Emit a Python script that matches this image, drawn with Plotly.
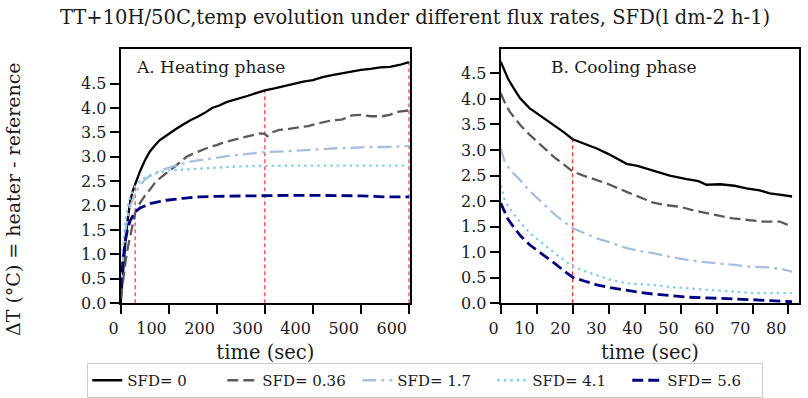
import plotly.graph_objects as go

# ---------------- data ----------------
sfd_labels = ["SFD= 0", "SFD= 0.36", "SFD= 1.7", "SFD= 4.1", "SFD= 5.6"]

# Heating phase (time in sec, delta T in degC)
heat_t_0 = [0, 5, 10, 15, 20, 25, 30, 40, 50, 60, 70, 80, 90, 100, 115, 130, 145, 160, 175, 190,
            205, 220, 235, 250, 265, 280, 300, 320, 340, 360, 380, 400, 420, 440, 460, 480, 500,
            520, 540, 560, 580, 600]
heat_v_0 = [0, 0.75, 1.3, 1.75, 2.1, 2.3, 2.45, 2.7, 2.92, 3.1, 3.22, 3.33, 3.4, 3.47, 3.57, 3.66,
            3.75, 3.82, 3.9, 4.0, 4.05, 4.12, 4.16, 4.21, 4.25, 4.3, 4.36, 4.4, 4.45, 4.49, 4.54,
            4.57, 4.63, 4.67, 4.71, 4.75, 4.78, 4.8, 4.83, 4.84, 4.88, 4.94]

heat_t_036 = [0, 5, 10, 15, 20, 25, 30, 40, 50, 60, 70, 80, 95, 110, 125, 137, 150, 165, 185, 200,
              215, 233, 250, 270, 289, 300, 305, 315, 330, 350, 372, 390, 410, 430, 441, 460, 482,
              500, 520, 544, 560, 575, 590, 600]
heat_v_036 = [0.1, 0.5, 0.85, 1.15, 1.4, 1.65, 1.85, 2.05, 2.2, 2.32, 2.45, 2.55, 2.66, 2.78, 2.9,
              3.0, 3.06, 3.12, 3.2, 3.24, 3.3, 3.34, 3.38, 3.43, 3.48, 3.47, 3.42, 3.5, 3.55, 3.57,
              3.6, 3.63, 3.68, 3.72, 3.75, 3.76, 3.85, 3.86, 3.83, 3.83, 3.86, 3.92, 3.93, 3.95]

heat_t_17 = [0, 5, 10, 15, 20, 30, 40, 50, 60, 75, 95, 120, 145, 165, 200, 233, 265, 303, 340,
             372, 410, 441, 480, 510, 550, 580, 600]
heat_v_17 = [0.3, 1.0, 1.5, 1.8, 2.0, 2.25, 2.42, 2.53, 2.6, 2.68, 2.76, 2.84, 2.9, 2.93, 2.98,
             3.03, 3.06, 3.1, 3.11, 3.13, 3.14, 3.17, 3.18, 3.2, 3.2, 3.22, 3.22]

heat_t_41 = [0, 5, 10, 15, 20, 30, 40, 50, 60, 80, 100, 130, 165, 200, 240, 280, 320, 360, 400,
             450, 500, 550, 600]
heat_v_41 = [0.4, 1.2, 1.7, 2.0, 2.2, 2.4, 2.5, 2.57, 2.62, 2.68, 2.72, 2.74, 2.76, 2.78, 2.8,
             2.81, 2.82, 2.82, 2.82, 2.82, 2.82, 2.82, 2.82]

heat_t_56 = [0, 5, 10, 15, 20, 30, 40, 50, 61, 80, 95, 130, 164, 200, 250, 300, 350, 400, 450,
             500, 550, 600]
heat_v_56 = [0.3, 0.9, 1.3, 1.55, 1.7, 1.87, 1.95, 2.0, 2.04, 2.08, 2.11, 2.15, 2.18, 2.19, 2.2,
             2.21, 2.21, 2.21, 2.21, 2.2, 2.18, 2.18]

# Cooling phase
cool_t_0 = [0, 1, 2, 3.5, 5.4, 8, 10, 12.8, 15, 17.5, 20, 23, 26.7, 30, 35, 38, 42.4, 47, 51.7,
            55, 57.2, 61, 65, 68.3, 72, 74.8, 78, 81]
cool_v_0 = [4.73, 4.55, 4.4, 4.22, 4.01, 3.82, 3.72, 3.59, 3.47, 3.35, 3.21, 3.13, 3.03, 2.92,
            2.73, 2.69, 2.6, 2.5, 2.43, 2.39, 2.32, 2.33, 2.3, 2.25, 2.21, 2.15, 2.12, 2.09]

cool_t_036 = [0, 1, 2.5, 5.4, 8, 10, 12.8, 15, 17.5, 20, 23, 26.7, 30, 35, 38, 42.4, 46, 49.8, 53,
              57.2, 61, 64.6, 69, 72.9, 77.6, 81]
cool_v_036 = [4.11, 3.95, 3.75, 3.49, 3.3, 3.17, 3.0, 2.85, 2.72, 2.58, 2.5, 2.41, 2.33, 2.18, 2.1,
              1.97, 1.92, 1.89, 1.83, 1.76, 1.71, 1.66, 1.63, 1.6, 1.6, 1.5]

cool_t_17 = [0, 1, 2.5, 5.4, 8, 10, 12.8, 15, 17.5, 20, 23, 26.7, 30, 35, 38, 42.4, 47, 51.7, 56,
             61, 65, 68.3, 72, 74.8, 78, 81]
cool_v_17 = [3.03, 2.8, 2.62, 2.41, 2.2, 2.07, 1.89, 1.74, 1.6, 1.47, 1.38, 1.27, 1.2, 1.08, 1.03,
             0.98, 0.91, 0.85, 0.81, 0.78, 0.75, 0.72, 0.71, 0.7, 0.67, 0.62]

cool_t_41 = [0, 1, 2, 3.5, 5.5, 8.1, 10, 12.8, 15, 17.5, 20, 23, 26.7, 30, 35, 38, 42.4, 47, 51.7,
             56, 61, 66, 70, 75, 81]
cool_v_41 = [2.31, 2.05, 1.9, 1.76, 1.58, 1.37, 1.27, 1.11, 0.98, 0.85, 0.72, 0.64, 0.55, 0.47,
             0.39, 0.38, 0.36, 0.32, 0.29, 0.27, 0.25, 0.22, 0.2, 0.2, 0.2]

cool_t_56 = [0, 1, 2, 3.5, 5.5, 8.1, 10, 12.8, 15, 17.5, 20, 23, 26.7, 30, 35, 38, 42.4, 47, 51.7,
             56, 61, 66, 70, 75, 81]
cool_v_56 = [1.96, 1.8, 1.65, 1.5, 1.32, 1.14, 1.04, 0.91, 0.78, 0.64, 0.51, 0.44, 0.36, 0.31,
             0.25, 0.22, 0.18, 0.15, 0.12, 0.11, 0.1, 0.08, 0.07, 0.05, 0.03]

# red reference markers (time, height)
heat_mark_t = [30, 300, 600]
heat_mark_v = [2.45, 4.36, 4.94]
cool_mark_t = [20]
cool_mark_v = [3.2]

x_heat_ticks = [0, 100, 200, 300, 400, 500, 600]
x_cool_ticks = [0, 10, 20, 30, 40, 50, 60, 70, 80]
y_ticks = [0.0, 0.5, 1.0, 1.5, 2.0, 2.5, 3.0, 3.5, 4.0, 4.5]

# ---------------- styles ----------------
colors = ["#000000", "#5a5a5a", "#a9bfdc", "#87ceeb", "#000080"]
dashes = ["solid", "11px,5px", "14px,5px,3px,5px", "2.5px,4px", "11px,5px"]
widths = [2.3, 2.3, 2.3, 2.3, 2.8]

heat_t = [heat_t_0, heat_t_036, heat_t_17, heat_t_41, heat_t_56]
heat_v = [heat_v_0, heat_v_036, heat_v_17, heat_v_41, heat_v_56]
cool_t = [cool_t_0, cool_t_036, cool_t_17, cool_t_41, cool_t_56]
cool_v = [cool_v_0, cool_v_036, cool_v_17, cool_v_41, cool_v_56]

FONT = "DejaVu Serif"
TXT = "#1a1a1a"
RED = dict(color="#ff1a1a", width=1.1, dash="4px,3px")

fig = go.Figure()

for t, v in zip(heat_mark_t, heat_mark_v):
    fig.add_trace(go.Scatter(x=[t, t], y=[0, v], mode="lines", xaxis="x", yaxis="y",
                             line=RED, showlegend=False, hoverinfo="skip"))
for t, v in zip(cool_mark_t, cool_mark_v):
    fig.add_trace(go.Scatter(x=[t, t], y=[0, v], mode="lines", xaxis="x2", yaxis="y2",
                             line=RED, showlegend=False, hoverinfo="skip"))

for i in range(5):
    fig.add_trace(go.Scatter(x=heat_t[i], y=heat_v[i], mode="lines", name=sfd_labels[i],
                             xaxis="x", yaxis="y", legendgroup=sfd_labels[i],
                             line=dict(color=colors[i], width=widths[i], dash=dashes[i])))
for i in range(5):
    fig.add_trace(go.Scatter(x=cool_t[i], y=cool_v[i], mode="lines", name=sfd_labels[i],
                             xaxis="x2", yaxis="y2", legendgroup=sfd_labels[i], showlegend=False,
                             line=dict(color=colors[i], width=widths[i], dash=dashes[i])))

axis_common = dict(showline=True, mirror=True, linecolor="black", linewidth=2,
                   ticks="outside", ticklen=9, tickwidth=2, tickcolor="black",
                   showgrid=False, zeroline=False, automargin=False,
                   tickfont=dict(family=FONT, size=16, color=TXT))
xtitle = dict(text="time (sec)", font=dict(family=FONT, size=19.5, color=TXT), standoff=8)

fig.update_layout(
    width=808, height=398,
    margin=dict(l=0, r=0, t=0, b=0, autoexpand=False),
    paper_bgcolor="white", plot_bgcolor="white",
    font=dict(family=FONT, color=TXT),
    xaxis=dict(domain=[0.1494, 0.5074], range=[0, 602], tickvals=x_heat_ticks,
               ticklabelposition="outside left", ticklabelstandoff=10,
               title=xtitle, anchor="y", **axis_common),
    yaxis=dict(domain=[0.238, 0.876], range=[0, 5.2], tickvals=y_ticks, tickformat=".1f",
               anchor="x", **axis_common),
    xaxis2=dict(domain=[0.6197, 0.9892], range=[0, 83], tickvals=x_cool_ticks,
                ticklabelposition="outside left", ticklabelstandoff=10,
                title=xtitle, anchor="y2", **axis_common),
    yaxis2=dict(domain=[0.238, 0.876], range=[0, 4.97], tickvals=y_ticks, tickformat=".1f",
                anchor="x2", **axis_common),
    legend=dict(orientation="h", x=0.108, xanchor="left", y=0.0, yanchor="bottom",
                bordercolor="#cccccc", borderwidth=1, bgcolor="white",
                font=dict(family=FONT, size=15, color=TXT), itemwidth=30, entrywidth=90),
    annotations=[
        dict(text="TT+10H/50C,temp evolution under different flux rates, SFD(l dm-2 h-1)",
             xref="paper", yref="paper", x=0.513, y=0.957, xanchor="center", yanchor="middle",
             showarrow=False, font=dict(family=FONT, size=19.5, color=TXT)),
        dict(text="ΔT (°C) = heater - reference", textangle=-90,
             xref="paper", yref="paper", x=0.0, y=0.5, xanchor="left", yanchor="middle",
             showarrow=False, font=dict(family=FONT, size=19, color=TXT)),
        dict(text="A. Heating phase", xref="x domain", yref="y domain", x=0.045, y=0.93,
             xanchor="left", yanchor="middle", showarrow=False,
             font=dict(family=FONT, size=17, color=TXT)),
        dict(text="B. Cooling phase", xref="x2 domain", yref="y2 domain", x=0.163, y=0.93,
             xanchor="left", yanchor="middle", showarrow=False,
             font=dict(family=FONT, size=17, color=TXT)),
    ],
)

fig.write_html("out.html")
